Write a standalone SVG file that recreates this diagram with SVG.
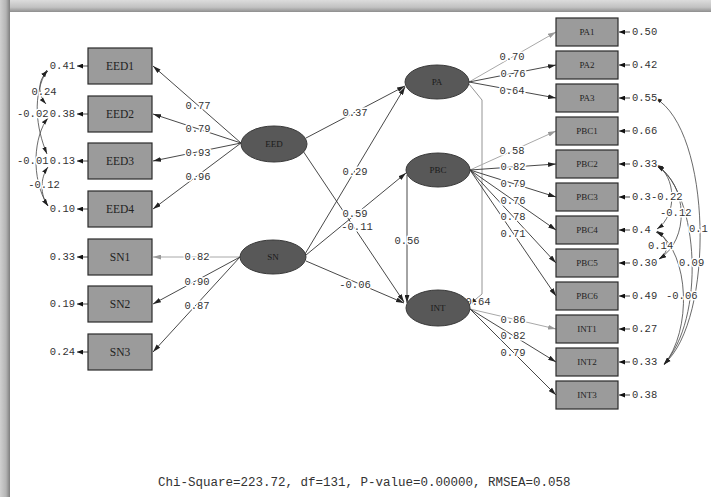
<svg xmlns="http://www.w3.org/2000/svg" width="711" height="497" viewBox="0 0 711 497">
<style>
.box{fill:#9b9b9b;stroke:#2a2a2a;stroke-width:1.2}
.lat{fill:#585858;stroke:#3a3a3a;stroke-width:1}
.ln{stroke:#333;stroke-width:0.9;fill:none}
.lg{stroke:#a8a8a8;stroke-width:1;fill:none}
.cv{stroke:#444;stroke-width:0.8;fill:none}
.num{font-family:"Liberation Mono","DejaVu Sans Mono",monospace;font-size:10.5px;fill:#333;dominant-baseline:central}
.h{paint-order:stroke;stroke:#fff;stroke-width:3px;stroke-linejoin:round}
.bl{font-family:"Liberation Serif","DejaVu Serif",serif;font-size:11.5px;fill:#222;text-anchor:middle;dominant-baseline:central}
.bs{font-family:"Liberation Serif","DejaVu Serif",serif;font-size:9px;fill:#222;text-anchor:middle;dominant-baseline:central}
.ll{font-family:"Liberation Serif","DejaVu Serif",serif;font-size:9px;fill:#1a1a1a;text-anchor:middle;dominant-baseline:central}
</style>
<defs>
<marker id="ah" viewBox="0 0 10 6" refX="10" refY="3" markerWidth="8" markerHeight="5" markerUnits="userSpaceOnUse" orient="auto"><path d="M0,0 L10,3 L0,6 z" fill="#222"/></marker>
<marker id="ahg" viewBox="0 0 10 6" refX="10" refY="3" markerWidth="8" markerHeight="5" markerUnits="userSpaceOnUse" orient="auto"><path d="M0,0 L10,3 L0,6 z" fill="#999"/></marker>
<marker id="ahe" viewBox="0 0 10 8" refX="10" refY="4" markerWidth="6" markerHeight="5" markerUnits="userSpaceOnUse" orient="auto"><path d="M0,0 L10,4 L0,8 z" fill="#111"/></marker>
<marker id="ahc" viewBox="0 0 10 6" refX="10" refY="3" markerWidth="7" markerHeight="5" markerUnits="userSpaceOnUse" orient="auto-start-reverse"><path d="M0,0 L10,3 L0,6 z" fill="#222"/></marker>
<linearGradient id="gt" x1="0" y1="0" x2="0" y2="1"><stop offset="0" stop-color="#dcdcdc"/><stop offset="0.6" stop-color="#c2c2c2"/><stop offset="1" stop-color="#8e8e8e"/></linearGradient>
<linearGradient id="gl" x1="0" y1="0" x2="1" y2="0"><stop offset="0" stop-color="#d0d0d0"/><stop offset="0.6" stop-color="#b4b4b4"/><stop offset="1" stop-color="#7e7e7e"/></linearGradient>
</defs>
<rect width="711" height="497" fill="#fff"/>
<rect x="0" y="0" width="711" height="12" fill="url(#gt)"/>
<rect x="0" y="0" width="10" height="497" fill="url(#gl)"/>

<g id="connectors">
<path class="ln" d="M241,143 L153,66" marker-end="url(#ah)"/>
<path class="ln" d="M241,143 L153,114" marker-end="url(#ah)"/>
<path class="ln" d="M241,143 L153,161" marker-end="url(#ah)"/>
<path class="ln" d="M241,143 L153,209" marker-end="url(#ah)"/>
<path class="lg" d="M240,257 L153,257" marker-end="url(#ahg)"/>
<path class="ln" d="M240,257 L153,304" marker-end="url(#ah)"/>
<path class="ln" d="M240,257 L153,352" marker-end="url(#ah)"/>
<path class="ln" d="M88,66 L77,66" marker-end="url(#ahe)"/>
<path class="ln" d="M88,114 L77,114" marker-end="url(#ahe)"/>
<path class="ln" d="M88,161 L77,161" marker-end="url(#ahe)"/>
<path class="ln" d="M88,209 L77,209" marker-end="url(#ahe)"/>
<path class="ln" d="M88,257 L77,257" marker-end="url(#ahe)"/>
<path class="ln" d="M88,304 L77,304" marker-end="url(#ahe)"/>
<path class="ln" d="M88,352 L77,352" marker-end="url(#ahe)"/>
<path class="cv" d="M48,71 C37,80 38,95 46,104" marker-start="url(#ahc)" marker-end="url(#ahc)"/>
<path class="cv" d="M47,70 C32,95 36,128 47,154" marker-start="url(#ahc)" marker-end="url(#ahc)"/>
<path class="cv" d="M48,118 C34,135 30,178 48,206" marker-start="url(#ahc)" marker-end="url(#ahc)"/>
<path class="cv" d="M48,167 C40,178 40,195 48,206" marker-start="url(#ahc)" marker-end="url(#ahc)"/>
<path class="ln" d="M306,138 L405,86" marker-end="url(#ah)"/>
<path class="ln" d="M305,254 L405,87" marker-end="url(#ah)"/>
<path class="ln" d="M306,255 L406,173" marker-end="url(#ah)"/>
<path class="ln" d="M303,151 L404,302" marker-end="url(#ah)"/>
<path class="ln" d="M306,261 L404,303" marker-end="url(#ah)"/>
<path class="ln" d="M407,175 L407,303" marker-end="url(#ah)"/>
<path class="ln" d="M469,84 L482,100 L482,294 L469,305" style="stroke:#888" marker-end="url(#ah)"/>
<path class="lg" d="M469,82 L556,32" marker-end="url(#ahg)"/>
<path class="ln" d="M469,82 L556,65" marker-end="url(#ah)"/>
<path class="ln" d="M469,82 L556,98" marker-end="url(#ah)"/>
<path class="lg" d="M470,170 L556,131" marker-end="url(#ahg)"/>
<path class="ln" d="M470,170 L556,164" marker-end="url(#ah)"/>
<path class="ln" d="M470,170 L556,197" marker-end="url(#ah)"/>
<path class="ln" d="M470,170 L556,230" marker-end="url(#ah)"/>
<path class="ln" d="M470,170 L556,263" marker-end="url(#ah)"/>
<path class="ln" d="M470,170 L556,296" marker-end="url(#ah)"/>
<path class="lg" d="M470,309 L556,329" marker-end="url(#ahg)"/>
<path class="ln" d="M470,309 L556,362" marker-end="url(#ah)"/>
<path class="ln" d="M470,309 L556,395" marker-end="url(#ah)"/>
<path class="ln" d="M630,32 L619,32" marker-end="url(#ahe)"/>
<path class="ln" d="M630,65 L619,65" marker-end="url(#ahe)"/>
<path class="ln" d="M630,98 L619,98" marker-end="url(#ahe)"/>
<path class="ln" d="M630,131 L619,131" marker-end="url(#ahe)"/>
<path class="ln" d="M630,164 L619,164" marker-end="url(#ahe)"/>
<path class="ln" d="M630,197 L619,197" marker-end="url(#ahe)"/>
<path class="ln" d="M630,230 L619,230" marker-end="url(#ahe)"/>
<path class="ln" d="M630,263 L619,263" marker-end="url(#ahe)"/>
<path class="ln" d="M630,296 L619,296" marker-end="url(#ahe)"/>
<path class="ln" d="M630,329 L619,329" marker-end="url(#ahe)"/>
<path class="ln" d="M630,362 L619,362" marker-end="url(#ahe)"/>
<path class="ln" d="M630,395 L619,395" marker-end="url(#ahe)"/>
<path class="cv" d="M655,98 C712,130 715,320 664,364" marker-start="url(#ahc)" marker-end="url(#ahc)"/>
<path class="cv" d="M656,165 C676,175 678,215 657,229" marker-start="url(#ahc)" marker-end="url(#ahc)"/>
<path class="cv" d="M657,166 C688,185 690,240 659,259" marker-start="url(#ahc)" marker-end="url(#ahc)"/>
<path class="cv" d="M656,232 C670,238 670,252 659,259" marker-start="url(#ahc)" marker-end="url(#ahc)"/>
<path class="cv" d="M657,165 C700,195 705,320 664,364" marker-start="url(#ahc)" marker-end="url(#ahc)"/>
<path class="cv" d="M657,231 C690,255 692,330 664,365" marker-start="url(#ahc)" marker-end="url(#ahc)"/>
<text class="num h" x="198" y="106" text-anchor="middle">0.77</text>
<text class="num h" x="198" y="129" text-anchor="middle">0.79</text>
<text class="num h" x="198" y="153" text-anchor="middle">0.93</text>
<text class="num h" x="198" y="177" text-anchor="middle">0.96</text>
<text class="num h" x="197" y="257" text-anchor="middle">0.82</text>
<text class="num h" x="197" y="282" text-anchor="middle">0.90</text>
<text class="num h" x="197" y="306" text-anchor="middle">0.87</text>
<text class="num h" x="355" y="113" text-anchor="middle">0.37</text>
<text class="num h" x="355" y="172" text-anchor="middle">0.29</text>
<text class="num h" x="355" y="214" text-anchor="middle">0.59</text>
<text class="num h" x="357" y="227" text-anchor="middle">-0.11</text>
<text class="num h" x="355" y="285" text-anchor="middle">-0.06</text>
<text class="num h" x="407" y="241" text-anchor="middle">0.56</text>
<text class="num h" x="478" y="302" text-anchor="middle">0.64</text>
<text class="num h" x="512" y="57" text-anchor="middle">0.70</text>
<text class="num h" x="513" y="74" text-anchor="middle">0.76</text>
<text class="num h" x="512" y="91" text-anchor="middle">0.64</text>
<text class="num h" x="512" y="151" text-anchor="middle">0.58</text>
<text class="num h" x="513" y="167" text-anchor="middle">0.82</text>
<text class="num h" x="513" y="184" text-anchor="middle">0.79</text>
<text class="num h" x="513" y="201" text-anchor="middle">0.76</text>
<text class="num h" x="513" y="217" text-anchor="middle">0.78</text>
<text class="num h" x="513" y="234" text-anchor="middle">0.71</text>
<text class="num h" x="513" y="320" text-anchor="middle">0.86</text>
<text class="num h" x="513" y="336" text-anchor="middle">0.82</text>
<text class="num h" x="513" y="353" text-anchor="middle">0.79</text>
<text class="num h" x="75" y="66" text-anchor="end">0.41</text>
<text class="num h" x="75" y="114" text-anchor="end">0.38</text>
<text class="num h" x="75" y="161" text-anchor="end">0.13</text>
<text class="num h" x="75" y="209" text-anchor="end">0.10</text>
<text class="num h" x="75" y="257" text-anchor="end">0.33</text>
<text class="num h" x="75" y="304" text-anchor="end">0.19</text>
<text class="num h" x="75" y="352" text-anchor="end">0.24</text>
<text class="num h" x="632" y="32">0.50</text>
<text class="num h" x="632" y="65">0.42</text>
<text class="num h" x="632" y="98">0.55</text>
<text class="num h" x="632" y="131">0.66</text>
<text class="num h" x="632" y="164">0.33</text>
<text class="num h" x="632" y="197">0.3</text>
<text class="num h" x="632" y="230">0.4</text>
<text class="num h" x="632" y="263">0.30</text>
<text class="num h" x="632" y="296">0.49</text>
<text class="num h" x="632" y="329">0.27</text>
<text class="num h" x="632" y="362">0.33</text>
<text class="num h" x="632" y="395">0.38</text>
<text class="num h" x="44" y="92" text-anchor="middle">0.24</text>
<text class="num h" x="17" y="114">-0.02</text>
<text class="num h" x="17" y="161">-0.01</text>
<text class="num h" x="44" y="185" text-anchor="middle">-0.12</text>
<text class="num h" x="651" y="197">-0.22</text>
<text class="num h" x="660" y="213">-0.12</text>
<text class="num h" x="689" y="229">0.1</text>
<text class="num h" x="648" y="246">0.14</text>
<text class="num h" x="679" y="263">0.09</text>
<text class="num h" x="666" y="296">-0.06</text>
</g>

<g id="EED1"><rect class="box" x="88" y="48" width="64" height="36"/><text class="bl" x="120" y="66">EED1</text></g>
<g id="EED2"><rect class="box" x="88" y="96" width="64" height="36"/><text class="bl" x="120" y="114">EED2</text></g>
<g id="EED3"><rect class="box" x="88" y="143" width="64" height="36"/><text class="bl" x="120" y="161">EED3</text></g>
<g id="EED4"><rect class="box" x="88" y="191" width="64" height="36"/><text class="bl" x="120" y="209">EED4</text></g>
<g id="SN1"><rect class="box" x="88" y="239" width="64" height="36"/><text class="bl" x="120" y="257">SN1</text></g>
<g id="SN2"><rect class="box" x="88" y="286" width="64" height="36"/><text class="bl" x="120" y="304">SN2</text></g>
<g id="SN3"><rect class="box" x="88" y="334" width="64" height="36"/><text class="bl" x="120" y="352">SN3</text></g>

<g id="EED"><ellipse class="lat" cx="274" cy="144" rx="33" ry="18"/><text class="ll" x="274" y="144">EED</text></g>
<g id="SN"><ellipse class="lat" cx="273" cy="257" rx="33" ry="17"/><text class="ll" x="273" y="257">SN</text></g>
<g id="PA"><ellipse class="lat" cx="437" cy="82" rx="32" ry="17"/><text class="ll" x="437" y="82">PA</text></g>
<g id="PBC"><ellipse class="lat" cx="438" cy="170" rx="32" ry="17"/><text class="ll" x="438" y="170">PBC</text></g>
<g id="INT"><ellipse class="lat" cx="438" cy="308" rx="32" ry="18"/><text class="ll" x="438" y="308">INT</text></g>

<g id="PA1"><rect class="box" x="556" y="18" width="62" height="28"/><text class="bs" x="587" y="32">PA1</text></g>
<g id="PA2"><rect class="box" x="556" y="51" width="62" height="28"/><text class="bs" x="587" y="65">PA2</text></g>
<g id="PA3"><rect class="box" x="556" y="84" width="62" height="28"/><text class="bs" x="587" y="98">PA3</text></g>
<g id="PBC1"><rect class="box" x="556" y="117" width="62" height="28"/><text class="bs" x="587" y="131">PBC1</text></g>
<g id="PBC2"><rect class="box" x="556" y="150" width="62" height="28"/><text class="bs" x="587" y="164">PBC2</text></g>
<g id="PBC3"><rect class="box" x="556" y="183" width="62" height="28"/><text class="bs" x="587" y="197">PBC3</text></g>
<g id="PBC4"><rect class="box" x="556" y="216" width="62" height="28"/><text class="bs" x="587" y="230">PBC4</text></g>
<g id="PBC5"><rect class="box" x="556" y="249" width="62" height="28"/><text class="bs" x="587" y="263">PBC5</text></g>
<g id="PBC6"><rect class="box" x="556" y="282" width="62" height="28"/><text class="bs" x="587" y="296">PBC6</text></g>
<g id="INT1"><rect class="box" x="556" y="315" width="62" height="28"/><text class="bs" x="587" y="329">INT1</text></g>
<g id="INT2"><rect class="box" x="556" y="348" width="62" height="28"/><text class="bs" x="587" y="362">INT2</text></g>
<g id="INT3"><rect class="box" x="556" y="381" width="62" height="28"/><text class="bs" x="587" y="395">INT3</text></g>

<text x="158" y="486" style="font-family:'Liberation Mono','DejaVu Sans Mono',monospace;font-size:12.5px;fill:#333">Chi-Square=223.72, df=131, P-value=0.00000, RMSEA=0.058</text>
</svg>
